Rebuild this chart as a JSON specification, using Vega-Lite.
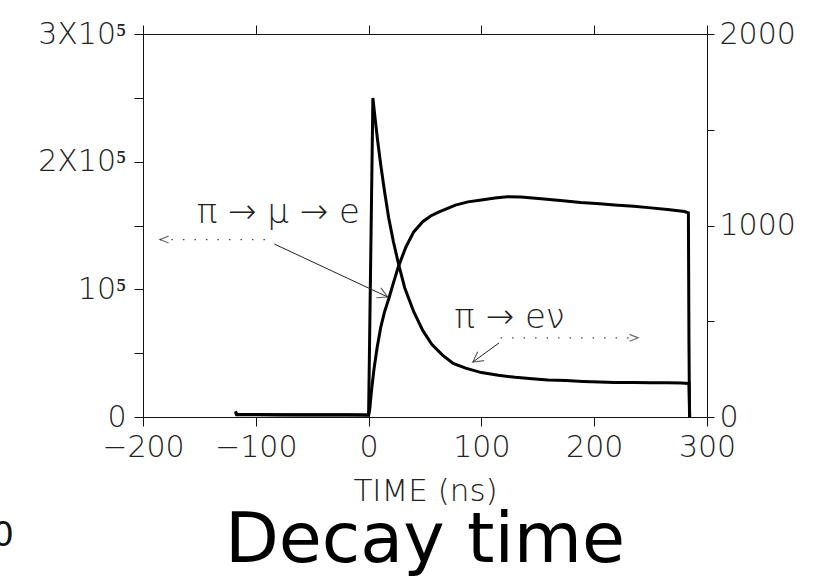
{
  "$schema": "https://vega.github.io/schema/vega-lite/v6.json",
  "width": 564,
  "height": 383,
  "autosize": {"type": "none"},
  "padding": {"left": 143, "top": 34, "right": 113, "bottom": 163},
  "background": "white",
  "config": {
    "view": {"stroke": null},
    "axis": {
      "grid": false,
      "domainColor": "#111",
      "domainWidth": 1,
      "tickColor": "#111",
      "tickWidth": 1,
      "tickSize": 9,
      "labelFont": "DejaVu Sans",
      "labelFontWeight": 200,
      "labelFontSize": 30,
      "labelColor": "#222",
      "labelOverlap": false,
      "labelFlush": false,
      "titleFont": "DejaVu Sans",
      "titleFontWeight": 200,
      "titleFontSize": 31,
      "titleColor": "#222"
    }
  },
  "datasets": {
    "mu": [
      {"time": -118, "counts": 4500}, {"time": -117, "counts": 2200}, {"time": -100, "counts": 1900},
      {"time": -80, "counts": 1800}, {"time": -60, "counts": 1800}, {"time": -40, "counts": 1700},
      {"time": -20, "counts": 1700}, {"time": -2, "counts": 1600}, {"time": 0, "counts": 1500},
      {"time": 1, "counts": 6000}, {"time": 2.5, "counts": 20000}, {"time": 4.7, "counts": 37000},
      {"time": 7.5, "counts": 54000}, {"time": 10.7, "counts": 70000}, {"time": 14, "counts": 82000},
      {"time": 18, "counts": 93000}, {"time": 22, "counts": 105000}, {"time": 26.5, "counts": 118000},
      {"time": 33, "counts": 133000}, {"time": 40, "counts": 145000}, {"time": 48, "counts": 153000},
      {"time": 55, "counts": 157500}, {"time": 62, "counts": 160500}, {"time": 70, "counts": 163500},
      {"time": 77, "counts": 166000}, {"time": 88, "counts": 168500}, {"time": 100, "counts": 170000},
      {"time": 112, "counts": 171500}, {"time": 123, "counts": 172500}, {"time": 135, "counts": 172300},
      {"time": 153, "counts": 171000}, {"time": 170, "counts": 169500}, {"time": 188, "counts": 168000},
      {"time": 205, "counts": 167000}, {"time": 218, "counts": 166000}, {"time": 235, "counts": 165000},
      {"time": 248, "counts": 164000}, {"time": 265, "counts": 162500}, {"time": 280, "counts": 161000},
      {"time": 283.5, "counts": 160000}, {"time": 284, "counts": 60000}, {"time": 284.5, "counts": 0}
    ],
    "enu": [
      {"time": -118, "counts": 25}, {"time": -117, "counts": 12}, {"time": -60, "counts": 11},
      {"time": -2, "counts": 10}, {"time": 0, "counts": 10}, {"time": 3.8, "counts": 1666},
      {"time": 6, "counts": 1547}, {"time": 8, "counts": 1444}, {"time": 10.7, "counts": 1320},
      {"time": 14, "counts": 1183}, {"time": 17.8, "counts": 1040}, {"time": 22, "counts": 915},
      {"time": 26.7, "counts": 795}, {"time": 32, "counts": 675}, {"time": 40, "counts": 550},
      {"time": 48, "counts": 452}, {"time": 56, "counts": 380}, {"time": 65.8, "counts": 322},
      {"time": 75, "counts": 280}, {"time": 86, "counts": 255}, {"time": 100, "counts": 232},
      {"time": 115, "counts": 218}, {"time": 130, "counts": 207}, {"time": 145, "counts": 200},
      {"time": 159, "counts": 193}, {"time": 175, "counts": 190}, {"time": 190, "counts": 186},
      {"time": 205, "counts": 183}, {"time": 218, "counts": 180}, {"time": 235, "counts": 180},
      {"time": 250, "counts": 179}, {"time": 265, "counts": 179}, {"time": 277, "counts": 178},
      {"time": 284, "counts": 175}, {"time": 284.7, "counts": 0}
    ],
    "labels": [
      {"time": -80, "counts": 160000, "label": "π → μ → e"},
      {"time": 125, "counts": 77500, "label": "π → eν"}
    ],
    "arrows": [
      {"time": -83.6, "counts": 135500, "time2": 16.9, "counts2": 94000},
      {"time": 115.6, "counts": 58000, "time2": 92.4, "counts2": 43000}
    ],
    "dotted": [
      {"time": -185, "counts": 139000, "time2": -87, "counts2": 139000},
      {"time": 117, "counts": 62000, "time2": 239, "counts2": 62000}
    ]
  },
  "title": {
    "text": "Decay time",
    "orient": "bottom",
    "frame": "group",
    "anchor": "middle",
    "font": "DejaVu Sans",
    "fontSize": 70,
    "fontWeight": "normal",
    "color": "black",
    "offset": -46
  },
  "layer": [
    {
      "data": {"name": "mu"},
      "mark": {"type": "line", "color": "black", "strokeWidth": 3},
      "encoding": {
        "x": {
          "field": "time", "type": "quantitative",
          "scale": {"domain": [-200, 300], "nice": false},
          "axis": {"orient": "bottom", "values": [-200, -100, 0, 100, 200, 300], "title": "TIME  (ns)", "labelPadding": 6, "titlePadding": 14}
        },
        "y": {
          "field": "counts", "type": "quantitative",
          "scale": {"domain": [0, 300000], "nice": false},
          "axis": {
            "orient": "left",
            "values": [0, 50000, 100000, 150000, 200000, 250000, 300000],
            "labelExpr": "datum.value == 300000 ? '3X10⁵' : datum.value == 200000 ? '2X10⁵' : datum.value == 100000 ? '10⁵' : datum.value == 0 ? '0' : ''",
            "labelPadding": 8,
            "title": null
          }
        }
      }
    },
    {
      "data": {"name": "enu"},
      "mark": {"type": "line", "color": "black", "strokeWidth": 3},
      "encoding": {
        "x": {
          "field": "time", "type": "quantitative",
          "scale": {"domain": [-200, 300], "nice": false},
          "axis": {"orient": "top", "values": [-200, -100, 0, 100, 200, 300], "labels": false, "title": null}
        },
        "y": {
          "field": "counts", "type": "quantitative",
          "scale": {"domain": [0, 2000], "nice": false},
          "axis": {
            "orient": "right",
            "values": [0, 500, 1000, 1500, 2000],
            "format": "d",
            "tickSize": 7,
            "labelExpr": "datum.value % 1000 == 0 ? datum.label : ''",
            "labelPadding": 5,
            "title": null
          }
        }
      }
    },
    {
      "data": {"name": "labels"},
      "mark": {"type": "text", "font": "DejaVu Sans", "fontWeight": 200, "fontSize": 34, "color": "#222", "align": "center", "baseline": "middle"},
      "encoding": {
        "x": {"field": "time", "type": "quantitative", "scale": {"domain": [-200, 300], "nice": false}, "axis": null},
        "y": {"field": "counts", "type": "quantitative", "scale": {"domain": [0, 300000], "nice": false}, "axis": null},
        "text": {"field": "label"}
      }
    },
    {
      "data": {"name": "arrows"},
      "mark": {"type": "rule", "color": "#222", "strokeWidth": 1},
      "encoding": {
        "x": {"field": "time", "type": "quantitative", "scale": {"domain": [-200, 300], "nice": false}, "axis": null},
        "y": {"field": "counts", "type": "quantitative", "scale": {"domain": [0, 300000], "nice": false}, "axis": null},
        "x2": {"field": "time2"},
        "y2": {"field": "counts2"}
      }
    },
    {
      "data": {"name": "dotted"},
      "mark": {"type": "rule", "color": "#444", "strokeWidth": 1.3, "strokeDash": [1.5, 10]},
      "encoding": {
        "x": {"field": "time", "type": "quantitative", "scale": {"domain": [-200, 300], "nice": false}, "axis": null},
        "y": {"field": "counts", "type": "quantitative", "scale": {"domain": [0, 300000], "nice": false}, "axis": null},
        "x2": {"field": "time2"},
        "y2": {"field": "counts2"}
      }
    },
    {
      "data": {"values": [{"time": 16.9, "counts": 94000}]},
      "mark": {"type": "point", "shape": "M -1 -0.55 L 0 0 L -1 0.55", "filled": false, "stroke": "#222", "strokeWidth": 1.2, "size": 400, "angle": 25},
      "encoding": {
        "x": {"field": "time", "type": "quantitative", "scale": {"domain": [-200, 300], "nice": false}, "axis": null},
        "y": {"field": "counts", "type": "quantitative", "scale": {"domain": [0, 300000], "nice": false}, "axis": null}
      }
    },
    {
      "data": {"values": [{"time": 92.4, "counts": 43000}]},
      "mark": {"type": "point", "shape": "M -1 -0.55 L 0 0 L -1 0.55", "filled": false, "stroke": "#222", "strokeWidth": 1.2, "size": 400, "angle": 144},
      "encoding": {
        "x": {"field": "time", "type": "quantitative", "scale": {"domain": [-200, 300], "nice": false}, "axis": null},
        "y": {"field": "counts", "type": "quantitative", "scale": {"domain": [0, 300000], "nice": false}, "axis": null}
      }
    },
    {
      "data": {"values": [{"time": -185, "counts": 139000}]},
      "mark": {"type": "point", "shape": "M -1 -0.4 L 0 0 L -1 0.4", "filled": false, "stroke": "#333", "strokeWidth": 1.2, "size": 300, "angle": 180},
      "encoding": {
        "x": {"field": "time", "type": "quantitative", "scale": {"domain": [-200, 300], "nice": false}, "axis": null},
        "y": {"field": "counts", "type": "quantitative", "scale": {"domain": [0, 300000], "nice": false}, "axis": null}
      }
    },
    {
      "data": {"values": [{"time": 239, "counts": 62000}]},
      "mark": {"type": "point", "shape": "M -1 -0.4 L 0 0 L -1 0.4", "filled": false, "stroke": "#333", "strokeWidth": 1.2, "size": 300, "angle": 0},
      "encoding": {
        "x": {"field": "time", "type": "quantitative", "scale": {"domain": [-200, 300], "nice": false}, "axis": null},
        "y": {"field": "counts", "type": "quantitative", "scale": {"domain": [0, 300000], "nice": false}, "axis": null}
      }
    },
    {
      "data": {"values": [{"time": -324, "counts": -93000, "label": "0"}]},
      "mark": {"type": "text", "font": "DejaVu Sans", "fontSize": 34, "color": "#111", "align": "center", "baseline": "middle"},
      "encoding": {
        "x": {"field": "time", "type": "quantitative", "scale": {"domain": [-200, 300], "nice": false}, "axis": null},
        "y": {"field": "counts", "type": "quantitative", "scale": {"domain": [0, 300000], "nice": false}, "axis": null},
        "text": {"field": "label"}
      }
    }
  ],
  "resolve": {"scale": {"y": "independent"}, "axis": {"x": "independent"}}
}
